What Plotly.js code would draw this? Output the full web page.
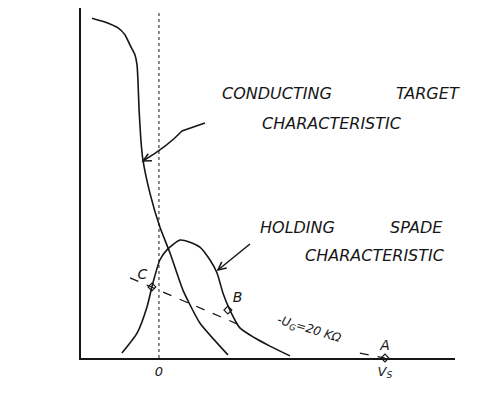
<!DOCTYPE html>
<html>
<head>
<meta charset="utf-8">
<script src="https://cdn.plot.ly/plotly-3.0.1.min.js"></script>
<style>html,body{margin:0;padding:0;background:#fff;}#chart{width:477px;height:410px;}</style>
</head>
<body>
<div id="chart"></div>
<script>
// Conducting target characteristic (spade voltage, current)
const targetX = [-2.96,-2.39,-1.81,-1.5,-1.28,-1.06,-0.97,-0.93,-0.88,-0.8,-0.71,-0.4,0.04,0.49,1.06,1.81,3.05];
const targetY = [97.1,96,94.3,92.3,89.4,86.6,83.7,79.4,70.9,62.3,56.6,47.1,37.4,30,19.4,10,0.9];
// Holding spade characteristic
const spadeX = [-1.64,-0.97,-0.53,-0.27,0.04,0.35,0.93,1.37,1.81,2.26,2.57,2.83,3.14,3.58,4.25,4.91,5.8];
const spadeY = [1.4,7.1,14.6,21.4,28,30.9,33.7,33.1,31.7,28,24.3,18.6,13.7,8.6,5.7,3.4,0.6];
// Load line (interrupted by its label)
const loadX = [-1.28,3.58,null,8.89,10];
const loadY = [22.9,9.4,null,1.4,0];
// Operating points
const ptNames = ['C','B','A'];
const ptX = [-0.31,3.05,10];
const ptY = [20.3,13.7,0];
// Axis ticks
const tickVals = [0,10];
const tickText = ['0','V<sub>S</sub>'];

const ink = '#161616';
const hand = {family:'DejaVu Sans, Liberation Sans, sans-serif', color:ink, style:'italic'};
function f(size){return Object.assign({}, hand, {size:size});}

const traces = [
  {x:targetX, y:targetY, mode:'lines', line:{color:ink, width:1.6, shape:'spline', smoothing:0.5}, hoverinfo:'skip'},
  {x:spadeX, y:spadeY, mode:'lines', line:{color:ink, width:1.6, shape:'spline', smoothing:0.6}, hoverinfo:'skip'},
  {x:loadX, y:loadY, mode:'lines', line:{color:ink, width:1.2, dash:'dash'}, hoverinfo:'skip'},
  {x:ptX, y:ptY, mode:'markers+text', text:ptNames, textposition:['top left','top right','top center'],
   textfont:f(14), marker:{symbol:'diamond-open', size:6, color:ink, line:{width:1.2}}, cliponaxis:false, hoverinfo:'skip'}
];

// pixel -> data helpers for label/arrow placement
function dx(px){return (px-159)/22.6;}
function dy(py){return (358-py)/3.5;}
function P(px,py){return dx(px).toFixed(3)+','+dy(py).toFixed(3);}

// arrow: a path plus a head made of two strokes
function arrow(d, tip, from){
  const vx = from[0]-tip[0], vy = from[1]-tip[1];
  const L = Math.hypot(vx,vy), ux = vx/L, uy = vy/L;
  const a = 0.45, len = 9;
  const h1 = [tip[0] + len*(ux*Math.cos(a) - uy*Math.sin(a)), tip[1] + len*(ux*Math.sin(a) + uy*Math.cos(a))];
  const h2 = [tip[0] + len*(ux*Math.cos(-a) - uy*Math.sin(-a)), tip[1] + len*(ux*Math.sin(-a) + uy*Math.cos(-a))];
  const head = 'M' + P(h1[0],h1[1]) + ' L' + P(tip[0],tip[1]) + ' L' + P(h2[0],h2[1]);
  return [
    {type:'path', xref:'x', yref:'y', path:d, line:{color:ink, width:1.5}},
    {type:'path', xref:'x', yref:'y', path:head, line:{color:ink, width:1.5}}
  ];
}

const annotations = [
  {x:dx(277), y:dy(93), text:'CONDUCTING', showarrow:false, font:f(16)},
  {x:dx(428), y:dy(93), text:'TARGET', showarrow:false, font:f(16)},
  {x:dx(332), y:dy(123), text:'CHARACTERISTIC', showarrow:false, font:f(16)},
  {x:dx(298), y:dy(227), text:'HOLDING', showarrow:false, font:f(16)},
  {x:dx(417), y:dy(227), text:'SPADE', showarrow:false, font:f(16)},
  {x:dx(375), y:dy(255), text:'CHARACTERISTIC', showarrow:false, font:f(16)},
  {x:dx(310), y:dy(330), text:'-U<sub>G</sub>=20 KΩ', showarrow:false, textangle:17, font:f(12)},
  {x:dx(38), y:dy(107), text:'i<sub>T</sub>, i<sub>S</sub>', showarrow:false, font:f(14)},
  {x:dx(21), y:dy(312), text:'ION', showarrow:false, font:f(14)},
  {x:dx(18), y:dy(369), text:'UNS', showarrow:false, font:f(13)},
  {x:dx(329), y:dy(398), text:'SPADE  VOLTAGE', showarrow:false, font:f(18)}
];

const shapes = [
  {type:'line', xref:'x', yref:'paper', x0:0, x1:0, y0:0, y1:0.994, line:{color:ink, width:1, dash:'dot'}}
].concat(
  arrow('M' + P(205,123) + ' L' + P(182,131) + ' Q' + P(168,146) + ' ' + P(143,161), [143,161], [160,152]),
  arrow('M' + P(250,244) + ' L' + P(218,270), [218,270], [250,244])
);

const layout = {
  width:477, height:410,
  margin:{l:81, r:22, t:8, b:52},
  paper_bgcolor:'#fff', plot_bgcolor:'#fff',
  showlegend:false,
  xaxis:{range:[-3.45,13.1], showgrid:false, zeroline:false, showline:true, linecolor:ink, linewidth:2,
         tickvals:tickVals, ticktext:tickText, ticks:'', tickfont:f(13), fixedrange:true},
  yaxis:{range:[0,100], showgrid:false, zeroline:false, showline:true, linecolor:ink, linewidth:2,
         showticklabels:false, ticks:'', fixedrange:true},
  shapes:shapes,
  annotations:annotations
};

Plotly.newPlot('chart', traces, layout, {staticPlot:true, displayModeBar:false});
</script>
</body>
</html>
